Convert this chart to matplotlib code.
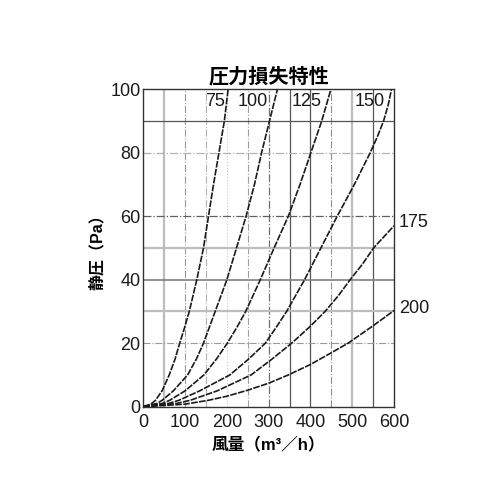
import matplotlib
matplotlib.use("Agg")
import matplotlib.pyplot as plt

plt.rcParams["font.family"] = ["Liberation Sans", "Noto Sans CJK JP", "DejaVu Sans"]

TITLE = "圧力損失特性"
XLABEL = "風量（m³／h）"
YLABEL = "静圧（Pa）"

# static pressure steps (Pa) at which the steep curves were read
P_STEEP = [0, 1, 2, 5, 10, 15, 20, 25, 30, 40, 50, 60, 70, 80, 90, 100]

# airflow (m3/h), one list per duct size
CURVE_LABELS = ["75", "100", "125", "150", "175", "200"]
FLOW = {
    "75": [0, 20, 29, 45, 62, 76, 87, 99, 110, 128, 144, 156, 168, 181, 194, 203],
    "100": [0, 32, 45, 72, 106, 127, 144, 158, 172, 200, 223, 246, 266, 283, 302, 321],
    "125": [0, 45, 63, 100, 145, 175, 201, 224, 245, 280, 313, 347, 375, 401, 427, 449],
    "150": [0, 60, 85, 135, 207, 252, 292, 318, 343, 386, 425, 464, 505,
            543, 560, 575, 586, 594],
    "175": [0, 79, 112, 177, 258, 308, 355, 397, 435, 467, 495, 525, 551, 600],
    "200": [0, 100, 155, 200, 250, 300, 347, 400, 450, 490, 550, 600],
}
PRESSURE = {
    "75": P_STEEP,
    "100": P_STEEP,
    "125": P_STEEP,
    "150": [0, 1, 2, 5, 10, 15, 20, 25, 30, 40, 50, 60, 70, 80, 85, 90, 95, 100],
    "175": [0, 1, 2, 5, 10, 15, 20, 25, 30, 35, 40, 45, 50, 57],
    "200": [0, 0.8, 2, 3.3, 5.2, 7.4, 10, 13.3, 17, 20, 25.5, 30.3],
}

XTICKS = [0, 100, 200, 300, 400, 500, 600]
YTICKS = [0, 20, 40, 60, 80, 100]

fig = plt.figure(figsize=(5, 5), dpi=100)
ax = fig.add_axes([0.2866, 0.1866, 0.5014, 0.6348])

# grid: mixed weights like the printed catalogue chart
vgrid = [
    (50, "#bdbdbd", "-", 1.6),
    (100, "#9a9a9a", "-.", 0.8),
    (150, "#b0b0b0", "-.", 0.8),
    (200, "#c8c8c8", ":", 0.8),
    (250, "#a0a0a0", "-.", 0.8),
    (300, "#707070", "-.", 0.9),
    (350, "#555555", "-", 0.9),
    (400, "#555555", "-", 0.9),
    (450, "#909090", "-.", 0.8),
    (500, "#bdbdbd", "-", 1.6),
    (550, "#555555", "-", 0.9),
]
hgrid = [
    (20, "#9a9a9a", "-.", 0.8),
    (30, "#bdbdbd", "-", 1.6),
    (40, "#808080", "-", 1.2),
    (50, "#bdbdbd", "-", 1.6),
    (60, "#606060", "-.", 0.9),
    (80, "#b0b0b0", "-.", 0.9),
    (90, "#555555", "-", 0.9),
]
for xv, c, ls, lw in vgrid:
    ax.axvline(xv, color=c, linestyle=ls, linewidth=lw, zorder=1)
for yv, c, ls, lw in hgrid:
    ax.axhline(yv, color=c, linestyle=ls, linewidth=lw, zorder=1)

for name in CURVE_LABELS:
    ax.plot(FLOW[name], PRESSURE[name], color="#1a1a1a", linewidth=1.2,
            linestyle=(0, (4, 0.8)), solid_joinstyle="round", zorder=3)

# curve labels
top_labels = {"75": 172, "100": 262, "125": 391, "150": 542}
for name, xv in top_labels.items():
    ax.text(xv, 96, name, ha="center", va="center", fontsize=13,
            zorder=4, color="#1a1a1a")
ax.text(612, 58, "175", ha="left", va="center",
        fontsize=13, clip_on=False, color="#1a1a1a")
ax.text(612, 31, "200", ha="left", va="center",
        fontsize=13, clip_on=False, color="#1a1a1a")

ax.set_xlim(0, 600)
ax.set_ylim(0, 100)
ax.set_xticks(XTICKS)
ax.set_yticks(YTICKS)
ax.tick_params(length=0, labelsize=13, colors="#1a1a1a")
ax.tick_params(axis="x", pad=5)
ax.tick_params(axis="y", pad=2)
for sp in ax.spines.values():
    sp.set_color("#333333")
    sp.set_linewidth(1.0)

ax.set_title(TITLE, fontsize=14.5, fontweight="bold", pad=5)
ax.set_xlabel(XLABEL, fontsize=12, fontweight="bold", labelpad=5)
ax.set_ylabel(YLABEL, fontsize=11.5, fontweight="bold", labelpad=4)

fig.savefig("out.png", dpi=100)
